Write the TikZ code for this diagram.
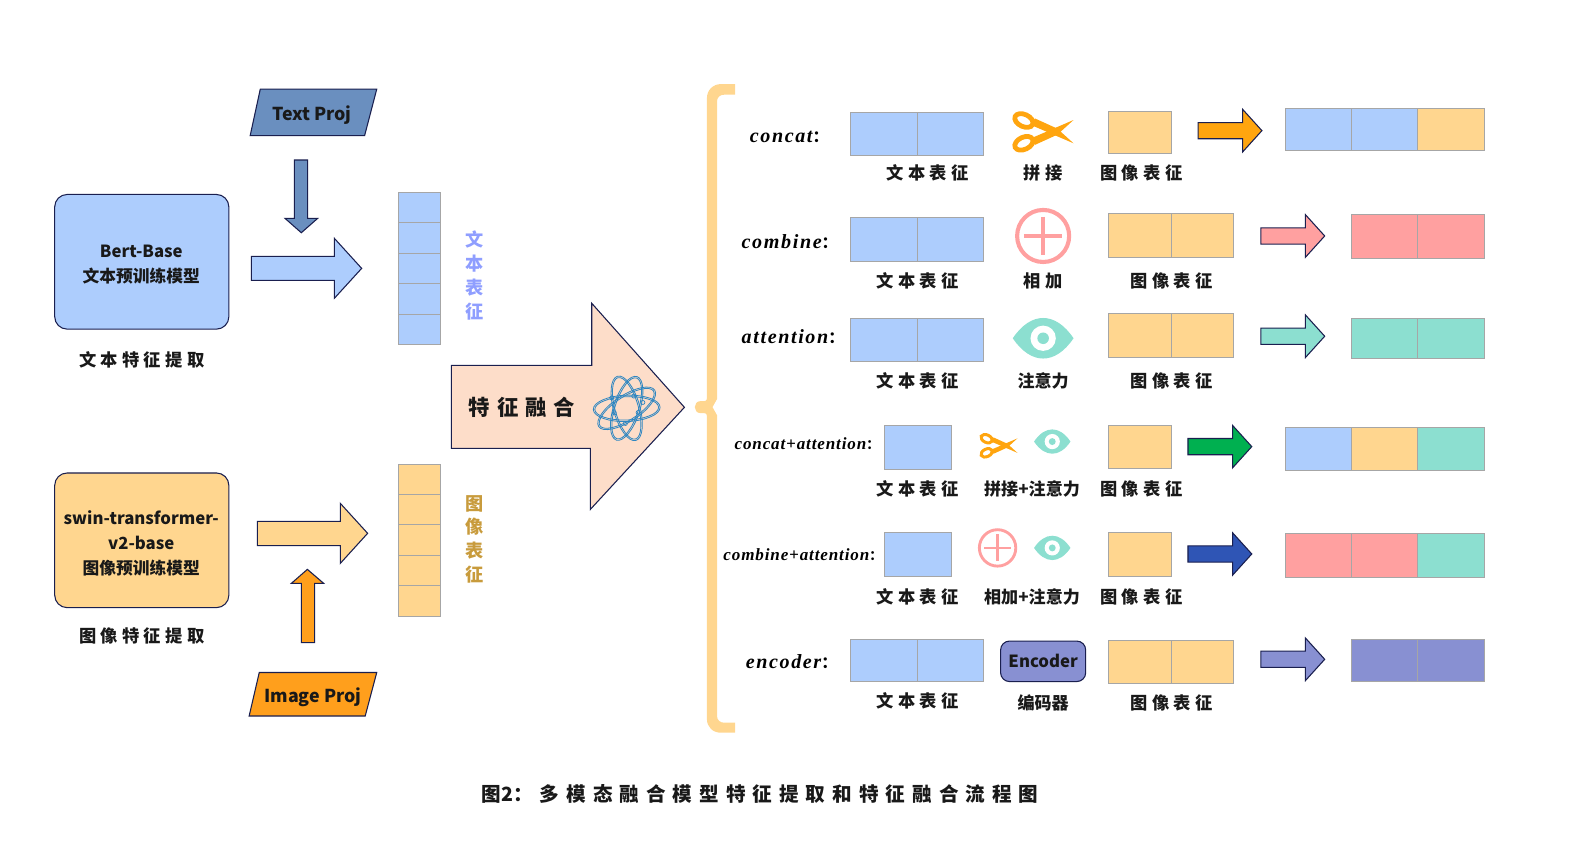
\documentclass[tikz,border=0pt]{standalone}
\usepackage{fontspec}
\newfontfamily\hei{Noto Sans CJK SC}
\newfontfamily\heisp{Noto Sans CJK SC}[LetterSpace=25]
\newfontfamily\heicap{Noto Sans CJK SC}[LetterSpace=36]
\newfontfamily\heibig{Noto Sans CJK SC}[LetterSpace=33]
\newfontfamily\ital{Liberation Serif}[LetterSpace=8]
\newfontfamily\italsm{Liberation Serif}[LetterSpace=5]
\usetikzlibrary{positioning}
\definecolor{txtblue}{HTML}{ADCDFD}
\definecolor{imgorange}{HTML}{FFD68F}
\definecolor{sumred}{HTML}{FFA0A0}
\definecolor{attteal}{HTML}{8CDFD0}
\definecolor{encpurple}{HTML}{8890D2}
\definecolor{edgenavy}{HTML}{1A1F4F}
\definecolor{projblue}{HTML}{6A8FBF}
\definecolor{projorange}{HTML}{FF9F1C}
\definecolor{cutorange}{HTML}{FFA50F}
\definecolor{fusefill}{HTML}{FDDDC9}
\definecolor{atomblue}{HTML}{2E86C1}
\definecolor{sidepurple}{HTML}{8F9EFF}
\definecolor{sidegold}{HTML}{C89B3C}
\definecolor{arrowgreen}{HTML}{00B050}
\definecolor{arrowblue}{HTML}{2F55B5}
\tikzset{
  cell/.style={draw=black!35, line width=0.55pt},
  txtcell/.style={cell, fill=txtblue},
  imgcell/.style={cell, fill=imgorange},
  redcell/.style={cell, fill=sumred},
  tealcell/.style={cell, fill=attteal},
  purcell/.style={cell, fill=encpurple},
  blockarrow/.style={draw=edgenavy, line width=0.6pt, line join=miter},
  capt/.style={font=\heisp\bfseries\fontsize{9.7}{11}\selectfont, text=black!90},
  captplain/.style={font=\hei\bfseries\fontsize{9.6}{11}\selectfont, text=black!90},
  rowname/.style={anchor=west, inner sep=0pt, font=\ital\bfseries\itshape\fontsize{11.3}{13}\selectfont},
  rownamesm/.style={anchor=west, inner sep=0pt, font=\italsm\bfseries\itshape\fontsize{9.6}{12}\selectfont},
  modelbox/.style={draw=edgenavy, line width=0.6pt, rounded corners=7pt, minimum width=3.44cm, minimum height=2.66cm},
  modeltext/.style={align=center, font=\hei\bfseries\fontsize{9.4}{14.2}\selectfont, text=black!90},
  projtext/.style={font=\hei\bfseries\fontsize{10}{12}\selectfont, text=black!90},
  sidetext/.style={align=center, font=\hei\bfseries\fontsize{10.2}{13.4}\selectfont}
}
% right-pointing block arrow of one table row: fill, left end, middle line
\newcommand{\rowarrow}[3]{\draw[blockarrow, fill=#1] (#2,#3-8) -- (#2+44,#3-8) -- (#2+44,#3-21) -- (#2+63,#3) -- (#2+44,#3+21) -- (#2+44,#3+8) -- (#2,#3+8) -- cycle;}
\newcommand{\cuticon}[3]{\begin{scope}[shift={(#1,#2)},scale=#3]
  \fill[cutorange] (30,-11.5) -- (-13,7) -- (-8,13) -- (14,3) -- cycle;
  \fill[cutorange] (30,11.5) -- (-13,-7) -- (-8,-13) -- (14,-3) -- cycle;
  \draw[cutorange, line width=2.7pt*#3] (-19,-11) ellipse [x radius=9.5, y radius=6, rotate=-25];
  \draw[cutorange, line width=2.7pt*#3] (-19,11.5) ellipse [x radius=9.5, y radius=6, rotate=25];
\end{scope}}
\newcommand{\eyeicon}[3]{\begin{scope}[shift={(#1,#2)},scale=#3]
  \fill[attteal] (-30,0) .. controls (-12,-26.7) and (12,-26.7) .. (30,0) .. controls (12,26.7) and (-12,26.7) .. (-30,0) -- cycle;
  \fill[white] (0,0) circle (12.5);
  \fill[attteal] (0,0) circle (5.7);
\end{scope}}
\newcommand{\sumicon}[3]{\begin{scope}[shift={(#1,#2)},scale=#3]
  \draw[sumred, line width=2.3pt*#3] (0,0) circle (25.7);
  \draw[sumred, line width=2pt*#3] (-19,0) -- (19,0) (0,-19) -- (0,19);
\end{scope}}
\begin{document}
\begin{tikzpicture}[x=0.02cm,y=-0.02cm]
\useasboundingbox (0,0) rectangle (1568,833.4);
% left side, text branch
\node[modelbox, fill=txtblue] (bert) at (140,258.5) {};
\node[modeltext] (berttext) at (139.5,261.5) {Bert-Base\\文本预训练模型};
\node[capt] (bertcap) at (140,355) {文本特征提取};
\draw[blockarrow, fill=projblue] (257,88) -- (372,88) -- (360,134) -- (247,134) -- cycle;
\node[projtext] (textproj) at (308,113.5) {Text Proj};
\draw[blockarrow, fill=projblue] (290.6,158) -- (303.8,158) -- (303.8,215.6) -- (313.7,215.6) -- (297.5,229.8) -- (281.4,215.6) -- (290.6,215.6) -- cycle;
\draw[blockarrow, fill=txtblue] (248.2,253.1) -- (330.1,253.1) -- (330.1,235.3) -- (357.1,265) -- (330.1,294.6) -- (330.1,276.8) -- (248.2,276.8) -- cycle;
\foreach \ya/\yb in {189.9/219.5,219.5/250.2,250.2/279.8,279.8/310.4,310.4/340} {
  \draw[txtcell] (393.3,\ya) rectangle (434.8,\yb);
}
\node[sidetext, text=sidepurple] (txtside) at (468.5,272) {文\\本\\表\\征};
% left side, image branch
\node[modelbox, fill=imgorange] (swin) at (140,533.5) {};
\node[modeltext] (swintext) at (139.5,536.5) {swin-transformer-\\v2-base\\图像预训练模型};
\node[capt] (swincap) at (140,628) {图像特征提取};
\draw[blockarrow, fill=projorange] (256,664) -- (372,664) -- (360.6,707) -- (246,707) -- cycle;
\node[projtext] (imgproj) at (309,688) {Image Proj};
\draw[blockarrow, fill=projorange] (297.5,634.6) -- (310.7,634.6) -- (310.7,576) -- (319.6,576) -- (303.5,562.2) -- (287.7,576) -- (297.5,576) -- cycle;
\draw[blockarrow, fill=imgorange] (254.1,514.8) -- (336,514.8) -- (336,497) -- (363,526.6) -- (336,556.3) -- (336,538.8) -- (254.1,538.8) -- cycle;
\foreach \ya/\yb in {458.5/488.1,488.1/517.7,517.7/548.4,548.4/578,578/608.6} {
  \draw[imgcell] (393.3,\ya) rectangle (434.8,\yb);
}
\node[sidetext, text=sidegold] (imgside) at (468.5,532.5) {图\\像\\表\\征};
% fusion arrow
\draw[blockarrow, fill=fusefill] (445.7,360.8) -- (584.3,360.8) -- (584.3,299.5) -- (675.8,402.2) -- (582.9,503) -- (582.9,442.7) -- (445.7,442.7) -- cycle;
\node[font=\heibig\bfseries\fontsize{12}{14}\selectfont, text=black!90] (fuse) at (515.5,402) {特征融合};
\begin{scope}[shift={(618.8,403.2)}]
  \foreach \a in {2,33,72,106} {
    \draw[atomblue, line width=0.45pt] (0,0) ellipse [x radius=33, y radius=13, rotate=\a];
    \draw[atomblue, line width=0.45pt] (0,0) ellipse [x radius=31.5, y radius=11.5, rotate=\a];
  }
  \foreach \a/\r in {20/12,95/15,160/13,215/18,300/14,340/17} {
    \draw[atomblue, line width=0.4pt] (\a:\r) circle (2);
  }
\end{scope}
% brace
\fill[imgorange] (725.8,83) -- (712,83) .. controls (704,83) and (698,89) .. (698,97) -- (698,393) .. controls (698,396) and (696,396.5) .. (692,396) .. controls (688,396) and (686,399) .. (686,402) .. controls (686,405) and (688,408) .. (692,408) .. controls (696,407.5) and (698,408) .. (698,411) -- (698,710) .. controls (698,718) and (704,723.5) .. (712,723.5) -- (725.8,723.5) -- (725.8,713.6) -- (715,713.6) .. controls (711,713.6) and (708,711) .. (708,707) -- (708,410) -- (703.5,402) -- (708,394) -- (708,100) .. controls (708,96) and (711,93.5) .. (715,93.5) -- (725.8,93.5) -- cycle;
% row 1
\node[rowname] (rowconcat) at (740,135) {concat{\hei\fontsize{9}{9}\selectfont ：}};
\foreach \xa/\xb in {839.5/906,906/971} {\draw[txtcell] (\xa,111) rectangle (\xb,153.5);}
\cuticon{1030}{130}{1}
\draw[imgcell] (1095,110) rectangle (1157,152);
\rowarrow{cutorange}{1183}{129}
\foreach \xa/\xb/\s in {1269/1334/txtcell,1334/1400/txtcell,1400/1466/imgcell} {\draw[\s] (\xa,107) rectangle (\xb,149);}
\node[capt] (capa) at (916,171) {文本表征};
\node[capt] (capb) at (1030,171) {拼接};
\node[capt] (capc) at (1127,171) {图像表征};
% row 2
\node[rowname] (rowcombine) at (732,239) {combine{\hei\fontsize{9}{9}\selectfont ：}};
\foreach \xa/\xb in {839.5/906,906/971} {\draw[txtcell] (\xa,215) rectangle (\xb,258);}
\sumicon{1030}{233}{1}
\foreach \xa/\xb in {1095/1157,1157/1218} {\draw[imgcell] (\xa,211) rectangle (\xb,254);}
\rowarrow{sumred}{1245}{233}
\foreach \xa/\xb in {1334/1400,1400/1466} {\draw[redcell] (\xa,212) rectangle (\xb,255);}
\node[capt] (capd) at (906,277) {文本表征};
\node[capt] (cape) at (1030,277) {相加};
\node[capt] (capf) at (1157,277) {图像表征};
% row 3
\node[rowname] (rowattn) at (732,332) {attention{\hei\fontsize{9}{9}\selectfont ：}};
\foreach \xa/\xb in {839.5/906,906/971} {\draw[txtcell] (\xa,314) rectangle (\xb,357);}
\eyeicon{1030}{334}{1}
\foreach \xa/\xb in {1095/1157,1157/1218} {\draw[imgcell] (\xa,310) rectangle (\xb,353);}
\rowarrow{attteal}{1245}{332}
\foreach \xa/\xb in {1334/1400,1400/1466} {\draw[tealcell] (\xa,314) rectangle (\xb,354);}
\node[capt] (capg) at (906,376) {文本表征};
\node[captplain] (caph) at (1030,376) {注意力};
\node[capt] (capi) at (1157,376) {图像表征};
% row 4
\node[rownamesm] (rowcatt) at (725,438) {concat+attention{\hei\fontsize{7.5}{8}\selectfont ：}};
\draw[txtcell] (873,420) rectangle (939,464);
\cuticon{986}{440}{0.62}
\eyeicon{1039}{436}{0.6}
\draw[imgcell] (1095,420) rectangle (1157,463);
\rowarrow{arrowgreen}{1173}{441}
\foreach \xa/\xb/\s in {1269/1334/txtcell,1334/1400/imgcell,1400/1466/tealcell} {\draw[\s] (\xa,422) rectangle (\xb,465);}
\node[capt] (capj) at (906,483) {文本表征};
\node[captplain] (capk) at (1019,483) {拼接+注意力};
\node[capt] (capl) at (1127,483) {图像表征};
% row 5
\node[rownamesm] (rowcbatt) at (714,548) {combine+attention{\hei\fontsize{7.5}{8}\selectfont ：}};
\draw[txtcell] (873,526) rectangle (939,569);
\sumicon{985}{541}{0.7}
\eyeicon{1039}{541}{0.6}
\draw[imgcell] (1095,526) rectangle (1157,569);
\rowarrow{arrowblue}{1173}{547}
\foreach \xa/\xb/\s in {1269/1334/redcell,1334/1400/redcell,1400/1466/tealcell} {\draw[\s] (\xa,527) rectangle (\xb,570);}
\node[capt] (capm) at (906,589) {文本表征};
\node[captplain] (capn) at (1019,589) {相加+注意力};
\node[capt] (capo) at (1127,589) {图像表征};
% row 6
\node[rowname] (rowenc) at (736,653) {encoder{\hei\fontsize{9}{9}\selectfont ：}};
\foreach \xa/\xb in {839.5/906,906/971} {\draw[txtcell] (\xa,631) rectangle (\xb,673);}
\node[draw=edgenavy, fill=encpurple, line width=0.6pt, rounded corners=5pt, minimum width=1.68cm, minimum height=0.8cm, font=\hei\bfseries\fontsize{9.4}{12}\selectfont, text=black!90] (enc) at (1030,653) {Encoder};
\foreach \xa/\xb in {1095/1157,1157/1218} {\draw[imgcell] (\xa,632) rectangle (\xb,675);}
\rowarrow{encpurple}{1245}{651}
\foreach \xa/\xb in {1334/1400,1400/1466} {\draw[purcell] (\xa,631) rectangle (\xb,673);}
\node[capt] (capp) at (906,692) {文本表征};
\node[captplain] (capq) at (1030,694) {编码器};
\node[capt] (capr) at (1157,694) {图像表征};
% caption
\node[font=\heicap\bfseries\fontsize{11}{13}\selectfont, text=black!90] (title) at (750.5,784) {{\hei 图2：}\hspace{4pt}多模态融合模型特征提取和特征融合流程图};
\end{tikzpicture}
\end{document}
